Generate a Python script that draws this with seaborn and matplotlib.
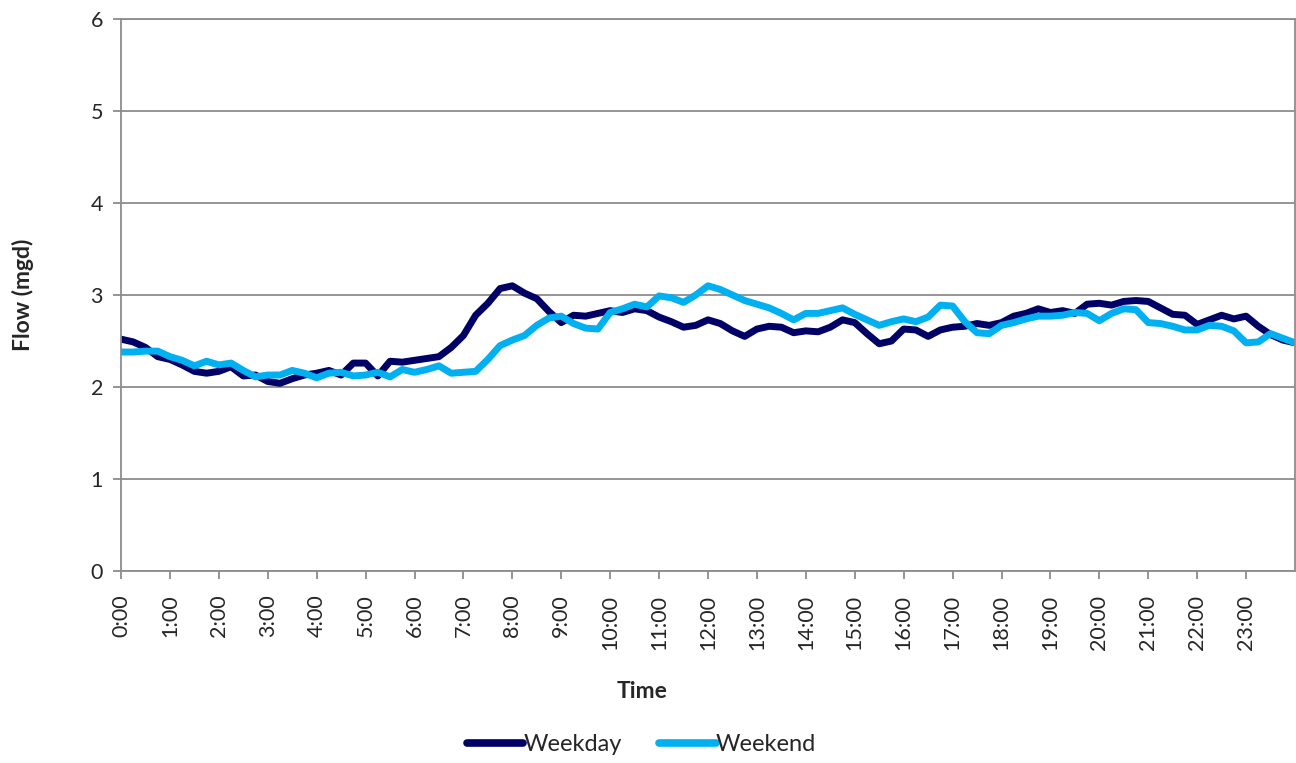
import numpy as np
import pandas as pd
import matplotlib
matplotlib.use("Agg")
import matplotlib.pyplot as plt
import seaborn as sns

# 15-minute readings, 0:00 through 24:00 (mgd)
hours = np.arange(97) * 0.25

weekday = [
    2.52, 2.49, 2.43, 2.33, 2.30, 2.24, 2.17, 2.15, 2.17, 2.22, 2.12, 2.13,
    2.06, 2.04, 2.09, 2.13, 2.15, 2.18, 2.13, 2.26, 2.26, 2.12, 2.28, 2.27,
    2.29, 2.31, 2.33, 2.43, 2.56, 2.78, 2.91, 3.07, 3.10, 3.02, 2.96, 2.82,
    2.70, 2.78, 2.77, 2.80, 2.83, 2.81, 2.85, 2.83, 2.76, 2.71, 2.65, 2.67,
    2.73, 2.69, 2.61, 2.55, 2.63, 2.66, 2.65, 2.59, 2.61, 2.60, 2.65, 2.73,
    2.70, 2.58, 2.47, 2.50, 2.63, 2.62, 2.55, 2.62, 2.65, 2.66, 2.69, 2.67,
    2.70, 2.77, 2.80, 2.85, 2.81, 2.83, 2.80, 2.90, 2.91, 2.89, 2.93, 2.94,
    2.93, 2.86, 2.79, 2.78, 2.68, 2.73, 2.78, 2.74, 2.77, 2.66, 2.57, 2.51,
    2.48,
]

weekend = [
    2.38, 2.38, 2.39, 2.39, 2.33, 2.29, 2.23, 2.28, 2.24, 2.26, 2.18, 2.11,
    2.13, 2.13, 2.18, 2.15, 2.10, 2.15, 2.16, 2.12, 2.13, 2.16, 2.11, 2.19,
    2.16, 2.19, 2.23, 2.15, 2.16, 2.17, 2.30, 2.45, 2.51, 2.56, 2.67, 2.75,
    2.77, 2.69, 2.64, 2.63, 2.81, 2.85, 2.90, 2.87, 2.99, 2.97, 2.92, 3.00,
    3.10, 3.06, 3.00, 2.94, 2.90, 2.86, 2.80, 2.73, 2.80, 2.80, 2.83, 2.86,
    2.79, 2.73, 2.67, 2.71, 2.74, 2.71, 2.76, 2.89, 2.88, 2.71, 2.59, 2.58,
    2.67, 2.70, 2.74, 2.77, 2.77, 2.78, 2.81, 2.80, 2.72, 2.80, 2.85, 2.84,
    2.70, 2.69, 2.66, 2.62, 2.62, 2.67, 2.66, 2.61, 2.48, 2.49, 2.58, 2.53,
    2.48,
]

tick_hours = list(range(24))
tick_labels = [f"{h}:00" for h in tick_hours]

colors = {"Weekday": "#000066", "Weekend": "#00B0F0"}

df = pd.concat([
    pd.DataFrame({"Time": hours, "Flow": weekday, "Series": "Weekday"}),
    pd.DataFrame({"Time": hours, "Flow": weekend, "Series": "Weekend"}),
])

sns.set_style("white")
plt.rcParams["font.family"] = ["Lato", "DejaVu Sans"]

fig = plt.figure(figsize=(12.96, 7.63), dpi=100)
ax = fig.add_axes([121 / 1296, 1 - 571 / 763, 1174 / 1296, 552 / 763])

sns.lineplot(data=df, x="Time", y="Flow", hue="Series", palette=colors,
             linewidth=5, ax=ax, legend=False)
for line in ax.lines:
    line.set_solid_joinstyle("round")
    line.set_solid_capstyle("round")

grid_col = "#8c8c8c"
ax.set_xlim(0, 24)
ax.set_ylim(0, 6)
ax.set_yticks(range(7))
ax.set_xticks(tick_hours)
ax.set_xticklabels(tick_labels, rotation=90, fontsize=15.5)
ax.tick_params(axis="y", labelsize=15.5, pad=7)
ax.tick_params(axis="x", pad=11)
ax.tick_params(axis="both", direction="out", length=6, width=1.3,
               color=grid_col, left=True, bottom=True)
ax.grid(axis="y", color=grid_col, linewidth=1.3)
ax.set_axisbelow(True)
for sp in ax.spines.values():
    sp.set_color(grid_col)
    sp.set_linewidth(1.3)

ax.set_xlabel("Time", fontsize=16.5, fontweight="bold")
ax.xaxis.set_label_coords(0.444, -0.199)
ax.set_ylabel("Flow (mgd)", fontsize=16.5, fontweight="bold")
ax.yaxis.set_label_coords(-0.074, 0.5)

handles = [plt.Line2D([], [], color=colors[s], linewidth=5.5,
                      solid_capstyle="round") for s in colors]
fig.legend(handles, list(colors), loc="lower center", ncol=2, frameon=False,
           fontsize=17, handlelength=2.4, handletextpad=0.0,
           columnspacing=1.6, bbox_to_anchor=(0.495, -0.018))

fig.savefig("out.png", dpi=100)
